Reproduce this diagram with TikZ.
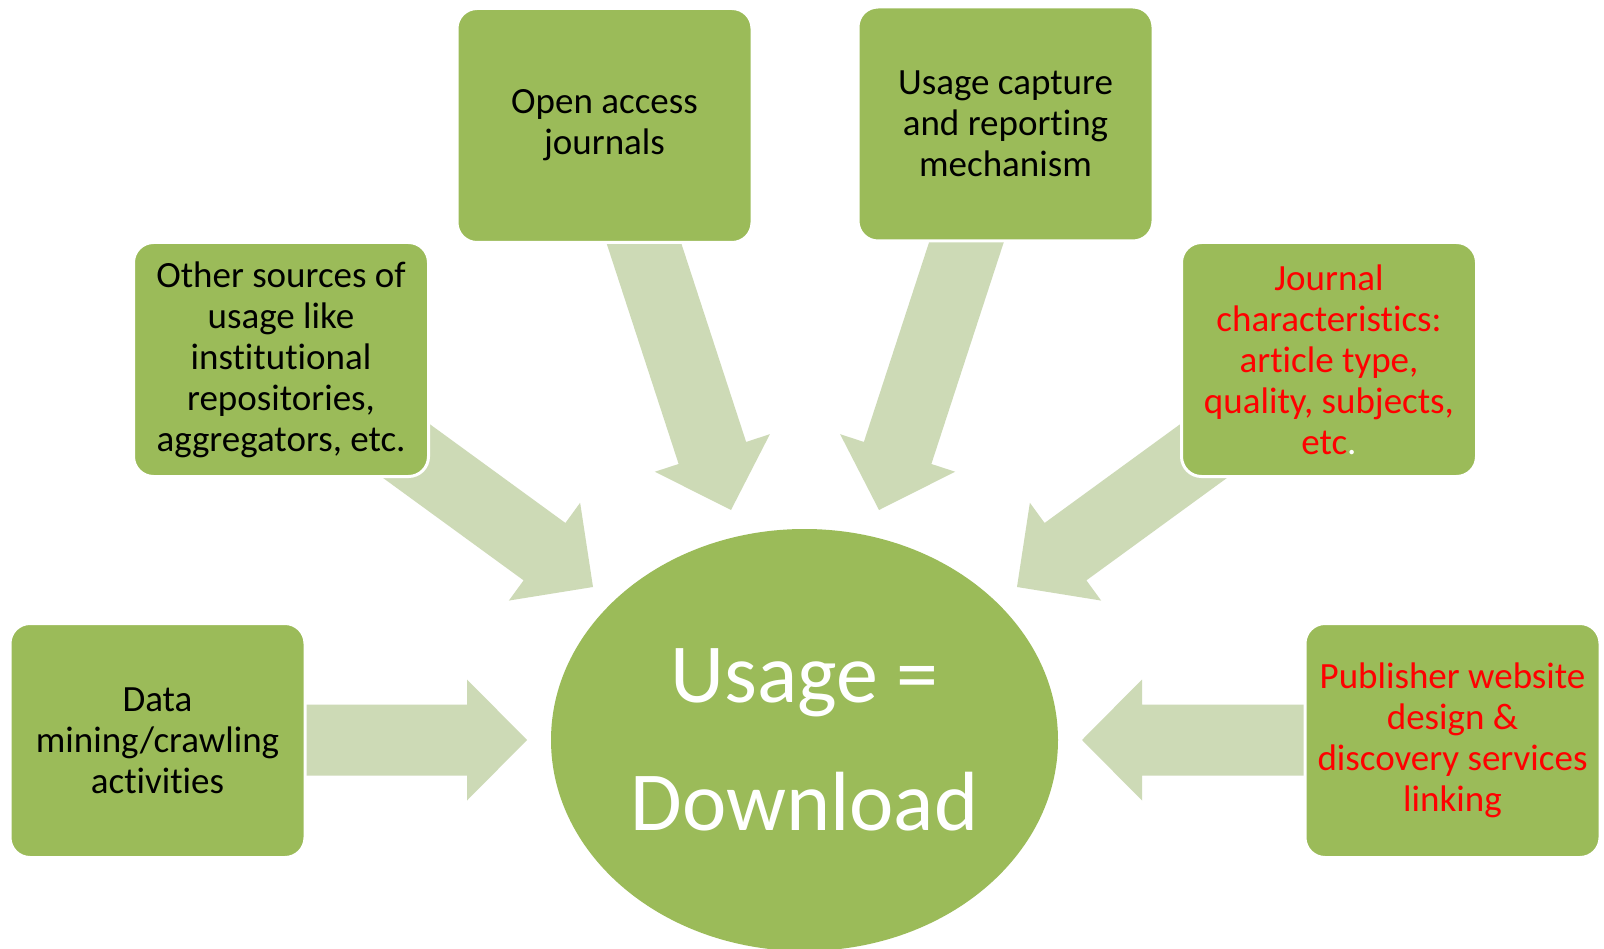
\documentclass[tikz,border=0pt]{standalone}
\usepackage{fontspec}
\setmainfont{Carlito}[Ligatures={NoCommon}, Contextuals={NoAlternate}]
\usetikzlibrary{calc,shapes.geometric}
\definecolor{boxgreen}{RGB}{155,187,89}
\definecolor{arrowgreen}{RGB}{205,218,182}
\definecolor{textred}{RGB}{255,0,0}
\tikzset{
  srcbox/.style={draw=white, line width=3pt, fill=boxgreen, rounded corners=20pt,
    minimum width=295pt, minimum height=234pt, align=center, inner sep=2pt,
    font=\fontsize{37pt}{41pt}\selectfont, text=black},
  redtxt/.style={text=textred},
  bigarrow/.style={fill=arrowgreen, draw=none},
  centre/.style={ellipse, fill=boxgreen, draw=none, minimum width=507pt, minimum height=422pt,
    inner sep=0pt, align=center, text=white, font=\fontsize{84pt}{128pt}\selectfont},
}
\newcommand{\blockarrow}[2]{%
  \coordinate (hb) at ($(#2)!60pt!(#1)$);
  \fill[bigarrow] (#2)
    -- ($(hb)!60.5pt!90:(#2)$)
    -- ($(hb)!35.5pt!90:(#2)$)
    -- ($(#1)!35.5pt!90:(#2)$)
    -- ($(#1)!35.5pt!-90:(#2)$)
    -- ($(hb)!35.5pt!-90:(#2)$)
    -- ($(hb)!60.5pt!-90:(#2)$)
    -- cycle;}
\begin{document}
\begin{tikzpicture}[x=1pt,y=-1pt]
\useasboundingbox[fill=white] (0,0) rectangle (1604,949);
% arrow end points
\coordinate (t1) at (290,740);   \coordinate (p1) at (527,740);
\coordinate (t2) at (383,434);   \coordinate (p2) at (593,587);
\coordinate (t3) at (620,170);   \coordinate (p3) at (731,510);
\coordinate (t4) at (990,170);   \coordinate (p4) at (879,510);
\coordinate (t5) at (1227,434);  \coordinate (p5) at (1017,587);
\coordinate (t6) at (1320,740);  \coordinate (p6) at (1082,740);
\blockarrow{t1}{p1}
\blockarrow{t2}{p2}
\blockarrow{t3}{p3}
\blockarrow{t4}{p4}
\blockarrow{t5}{p5}
\blockarrow{t6}{p6}
% boxes
\node[srcbox] (b1) at (157.5,740.5) {Data\\mining/crawling\\activities};
\node[srcbox] (b2) at (281,359.5) {Other sources of\\usage like\\institutional\\repositories,\\aggregators, etc.};
\node[srcbox] (b3) at (604.5,125.5) {Open access\\journals};
\node[srcbox] (b4) at (1005.5,124) {Usage capture\\and reporting\\mechanism};
\node[srcbox,redtxt] (b5) at (1329,359.5) {Journal\\characteristics:\\article type,\\quality, subjects,\\etc\textcolor{white}{.}};
\node[srcbox,redtxt] (b6) at (1452.5,740.5) {Publisher website\\design \&\\discovery services\\linking};
% centre
\node[centre] (c) at (804.5,740) {Usage =\\Download};
\end{tikzpicture}
\end{document}
